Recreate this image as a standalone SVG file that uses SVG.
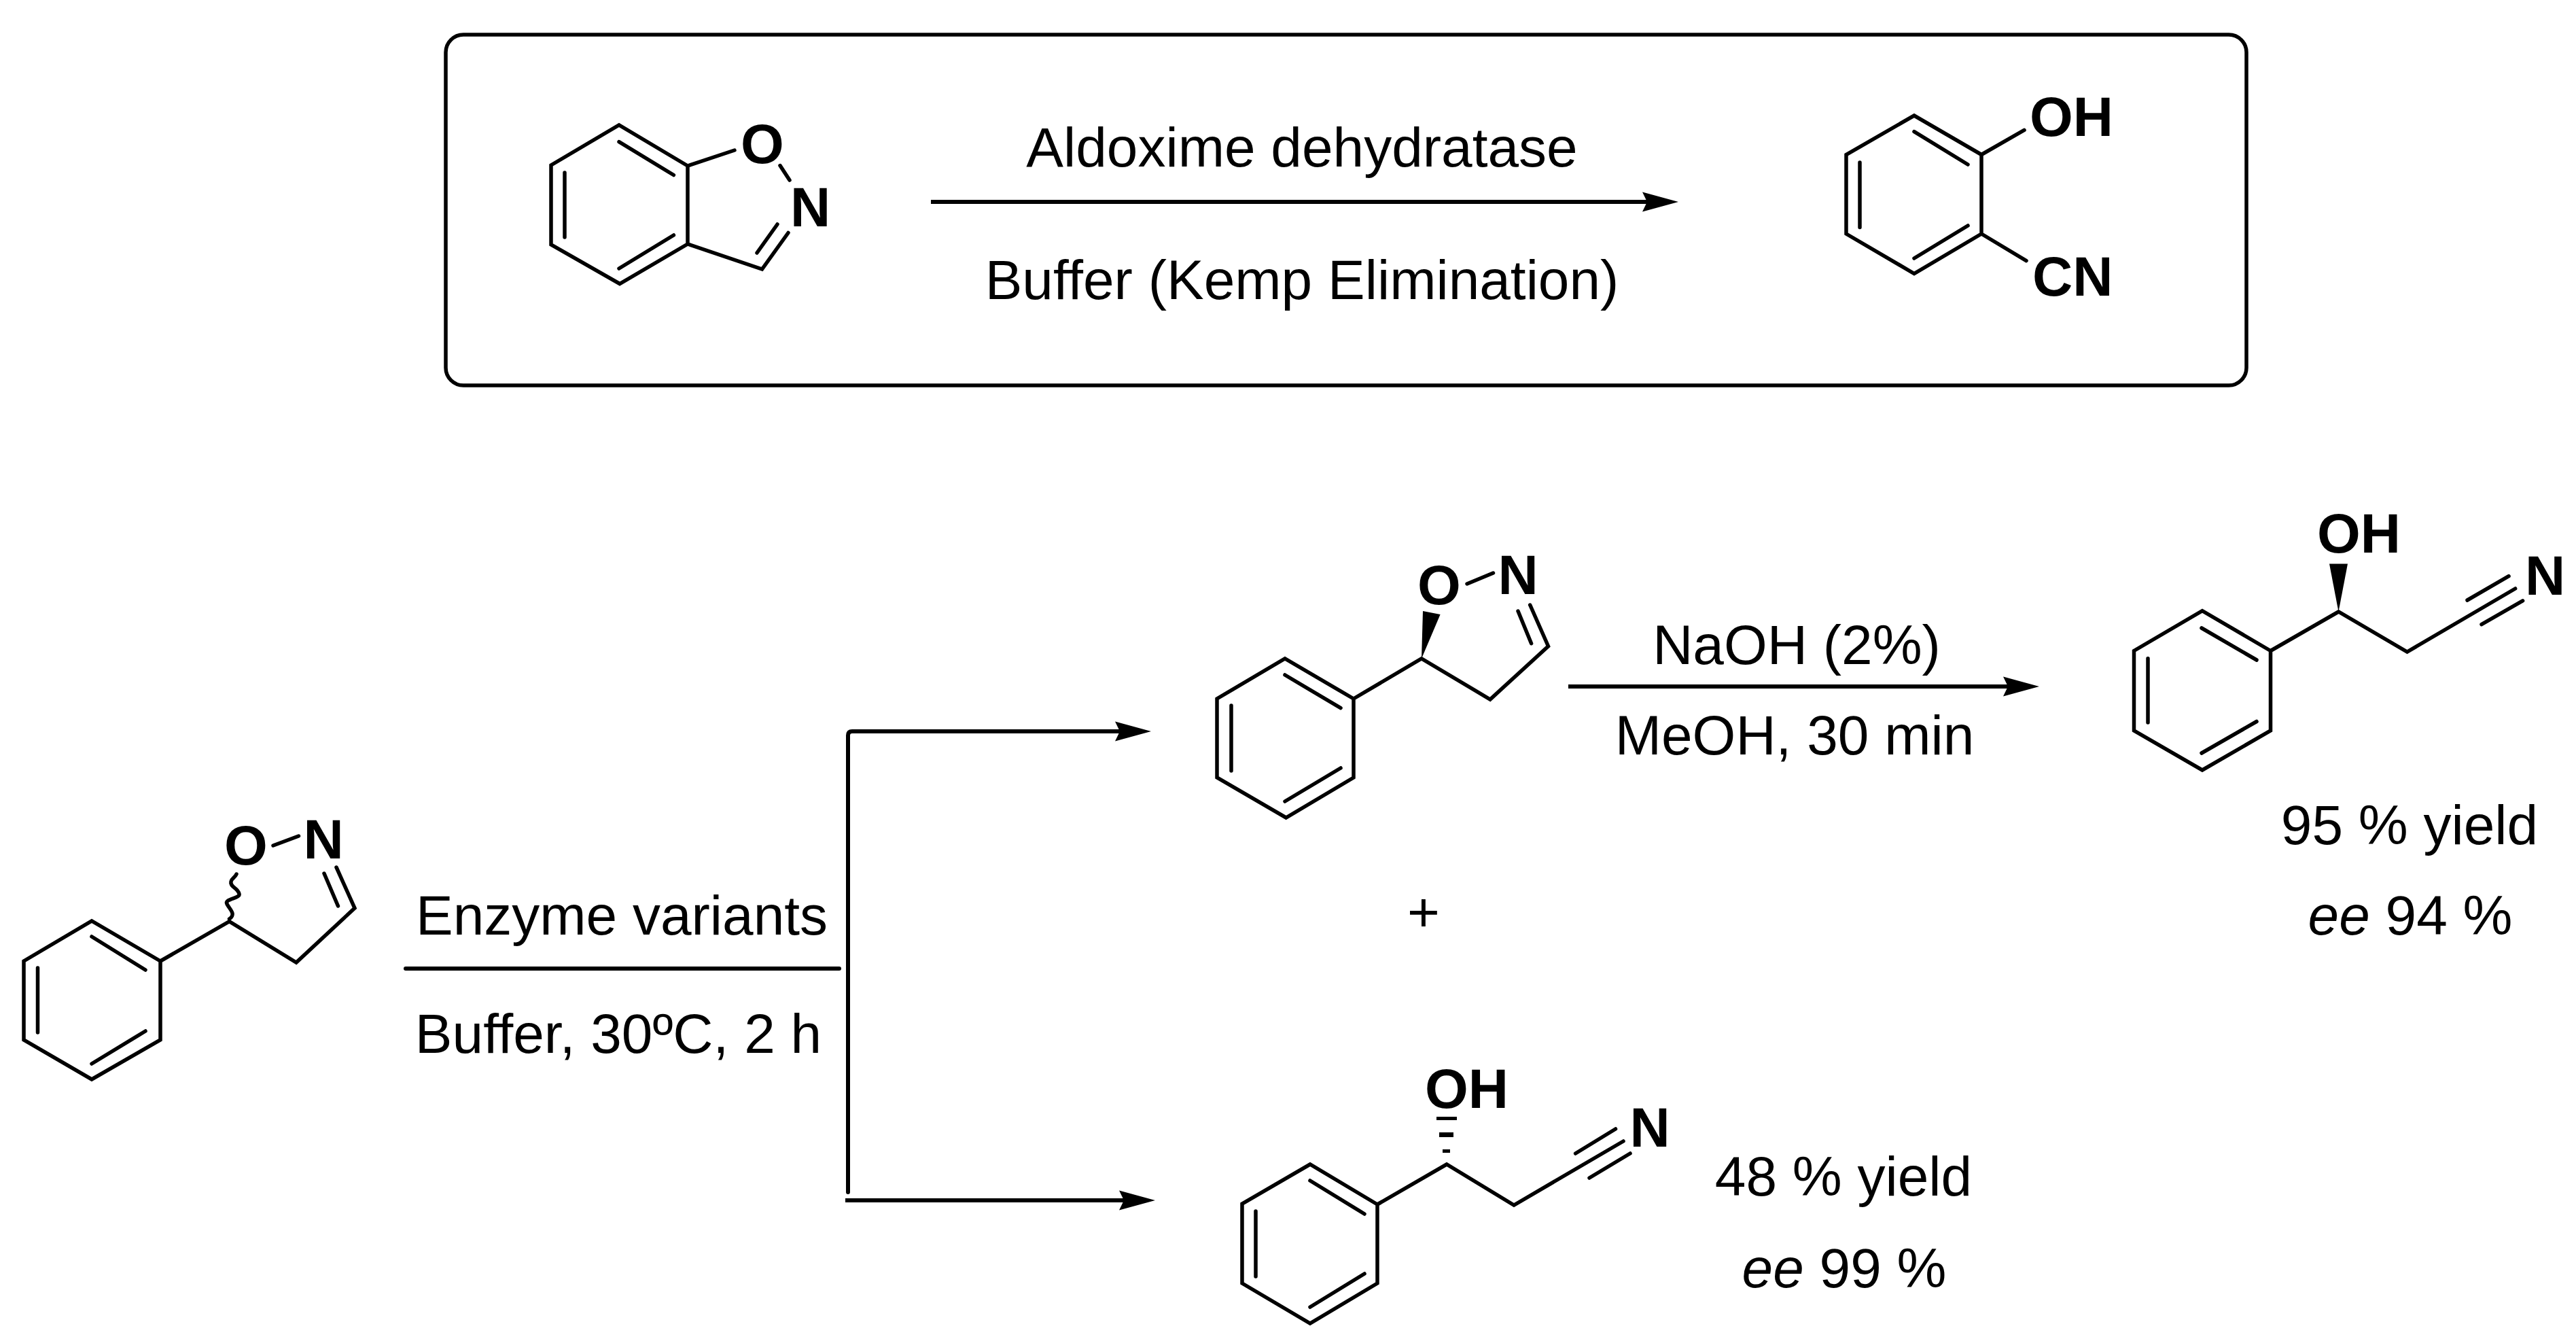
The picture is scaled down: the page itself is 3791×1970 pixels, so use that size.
<svg xmlns="http://www.w3.org/2000/svg" width="3791" height="1970" viewBox="0 0 3791 1970">
<style>
text{font-family:"Liberation Sans",Arial,sans-serif;font-size:82px;fill:#000}
.a{font-weight:bold;font-size:82px}
.m{text-anchor:middle}
.b{fill:none;stroke:#000;stroke-width:5.5;stroke-linecap:round;stroke-linejoin:miter}
.c{fill:none;stroke:#000;stroke-width:6}
.h{fill:#000;stroke:none}
</style>
<defs>
<marker id="ah" markerUnits="userSpaceOnUse" markerWidth="56" markerHeight="30" refX="10" refY="15" orient="auto"><path d="M0 0.5L53 15L0 29.5L7 15Z" fill="#000"/></marker>
</defs>
<rect width="3791" height="1970" fill="#fff"/>
<g id="frame"><rect x="656" y="51" width="2650" height="516" rx="26" ry="26" fill="none" stroke="#000" stroke-width="5.5"/></g>
<g id="connectors">
<path class="c" d="M1370 297H2427" marker-end="url(#ah)"/>
<path class="c" d="M597 1425H1235" stroke-linecap="round"/>
<path class="c" d="M1248 1754V1082Q1248 1076 1254 1076H1651" stroke-linecap="round" marker-end="url(#ah)"/>
<path class="c" d="M1244 1766H1657" marker-end="url(#ah)"/>
<path class="c" d="M2308 1010H2958" marker-end="url(#ah)"/>
</g>
<g id="labels">
<text class="m" x="1916" y="245">Aldoxime dehydratase</text>
<text class="m" x="1916" y="440">Buffer (Kemp Elimination)</text>
<text class="m" x="915" y="1375">Enzyme variants</text>
<text class="m" x="910" y="1549">Buffer, 30ºC, 2 h</text>
<text class="m" x="2644" y="977">NaOH (2%)</text>
<text class="m" x="2641" y="1110">MeOH, 30 min</text>
<text class="m" x="2095" y="1370">+</text>
</g>
<g id="benzisoxazole">
<path class="b" d="M1012 244L911 184L811 243V360L912 417.5L1012 359ZM1012 244L1081 221M1012 359L1121.5 396L1160 342.5M1148 243.6L1162 265M911 208.6L991.4 257.5M831 254V349M911 395L991.4 346M1114 372L1144 330"/>
<text class="a m" x="1122" y="240">O</text><text class="a m" x="1192.5" y="333">N</text>
</g>
<g id="salicylonitrile">
<path class="b" d="M2916 227.5L2817 170L2717 227.5V344L2817 402.5L2916 344ZM2916 227.5L2979 191.4M2916 344L2982 383.6M2817 193.6L2896 242M2737 239V334.6M2817 380L2896 332"/>
<text class="a" x="2987" y="200">OH</text><text class="a" x="2991" y="434.6">CN</text>
</g>
<g id="racemic-isoxazoline">
<path class="b" d="M236 1414L135 1355L35 1414V1530L135 1588L236 1530ZM236 1414L337.5 1355.7L436 1416L522 1336L495 1276M402 1244L439.5 1230M135 1378L214 1427M55.5 1424V1519M135 1565L214 1517M497.5 1333L477 1285"/>
<path class="b" d="M337.5 1352C348 1345 338 1338 334 1330C330 1322 354 1322 352 1315C350 1306 338 1305 340 1297C341 1292 346 1291 348 1286"/>
<text class="a m" x="362" y="1272">O</text><text class="a m" x="476" y="1262.7">N</text>
</g>
<g id="s-isoxazoline">
<path class="b" d="M1992 1028L1891 969L1791 1028V1144L1892.6 1203L1992 1144ZM1992 1028L2092 969L2193 1029L2278.5 950.7L2251.7 890M2159 859L2197.5 843M1891 993L1973 1041.7M1812 1038V1134M1891 1179L1973 1130M2253.6 946.7L2234 899"/>
<path class="h" d="M2092 969L2094 899L2119.6 904Z"/>
<text class="a m" x="2118" y="889">O</text><text class="a m" x="2234" y="874">N</text>
</g>
<g id="s-hydroxynitrile">
<path class="b" d="M3341.5 957.5L3241 898.6L3140.5 957.5V1075L3241 1133L3341.5 1075ZM3341.5 957.5L3441.5 900L3542.5 959L3701.6 866M3631 883L3692 847.7M3652 918.7L3712.6 883.8M3240 924L3321 971M3161 968.7V1063M3240 1108L3321 1061.5"/>
<path class="h" d="M3441.5 900L3428 829.4H3455Z"/>
<text class="a" x="3410" y="813">OH</text><text class="a m" x="3745.7" y="875">N</text>
</g>
<g id="r-hydroxynitrile">
<path class="b" d="M2027 1772L1928 1713L1828 1771V1888L1928 1947L2027 1888ZM2027 1772L2129 1713L2228 1773L2389 1679M2318.6 1697L2377.5 1661M2339 1733L2399 1697M1928 1737L2008 1786M1848 1782V1878M1928 1923L2008 1874"/>
<path class="h" d="M2114 1643H2144V1648H2114ZM2118 1666H2139V1673H2118ZM2123 1691H2134V1696H2123Z"/>
<text class="a" x="2097" y="1630">OH</text><text class="a m" x="2428" y="1686.7">N</text>
</g>
<g id="yields">
<text class="m" x="3546" y="1242">95 % yield</text>
<text class="m" x="3547" y="1375"><tspan font-style="italic">ee</tspan> 94 %</text>
<text class="m" x="2713" y="1759">48 % yield</text>
<text class="m" x="2714" y="1894"><tspan font-style="italic">ee</tspan> 99 %</text>
</g>
</svg>
